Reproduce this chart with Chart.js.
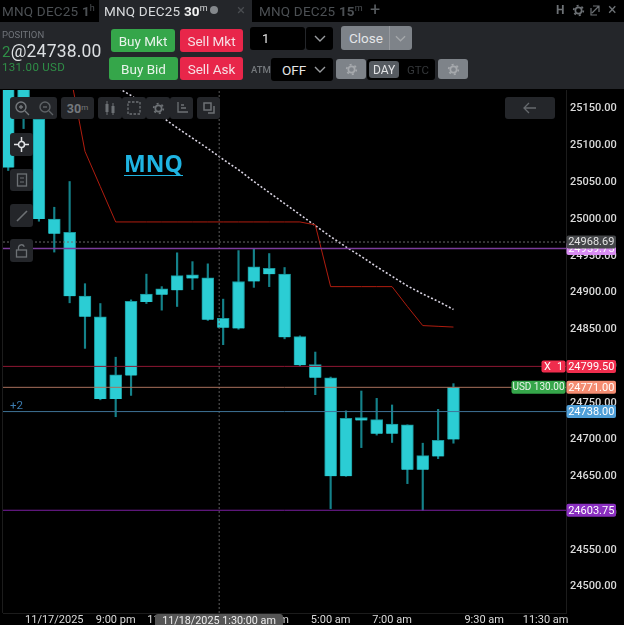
<!DOCTYPE html>
<html>
<head>
<meta charset="utf-8">
<title>MNQ DEC25 30m</title>
<script src="https://cdn.jsdelivr.net/npm/chart.js@4/dist/chart.umd.min.js"></script>
<style>
  html, body { margin: 0; padding: 0; background: #000; overflow: hidden; }
  body { width: 624px; height: 625px; position: relative; font-family: Roboto, sans-serif; }
  canvas { position: absolute; left: 0; top: 0; }
  .abs { position: absolute; white-space: nowrap; }
  .box { position: absolute; box-sizing: border-box; display: flex; align-items: center; justify-content: center; white-space: nowrap; }
  .tab { font-size: 13.5px; letter-spacing: 0.2px; line-height: 22px; top: 0; color: #4c5054; }
  .tab b { font-weight: 700; }
  .tab sup { font-size: 9px; line-height: 0; font-weight: 400; }
  .trade { border-radius: 3px; color: #e8f3ea; font-size: 13.5px; }
  .buy { background: #35a64a; }
  .sell { background: #e8264a; color: #f6dfe4; }
  .grey { background: #7e8389; border-radius: 3px; color: #e4e6e8; }
  .dark { background: #000; border-radius: 3px; color: #e6e6e6; }
  .tool { background: #24262a; border-radius: 3px; }
  .tool svg, .grey svg { display: block; }
</style>
</head>
<body>
<canvas id="priceChart" width="624" height="625"></canvas>

<svg width="0" height="0" style="position:absolute">
  <symbol id="gear" viewBox="0 0 14 14">
    <circle cx="7" cy="7" r="3.4" fill="none" stroke="currentColor" stroke-width="1.8"/>
    <circle cx="7" cy="7" r="5.2" fill="none" stroke="currentColor" stroke-width="1.8" stroke-dasharray="2.2 3.25"/>
  </symbol>
</svg>

<!-- Tab strip -->
<div class="box" style="left:99px;top:0;width:153px;height:22px;background:#24262a"></div>
<div class="abs tab" style="left:2px">MNQ DEC25 <b>1</b><sup>h</sup></div>
<div class="abs tab" style="left:104px;color:#d8dadc">MNQ DEC25 <b style="color:#f2f2f2">30</b><sup>m</sup></div>
<div class="abs" style="left:210px;top:6px;width:8px;height:8px;border-radius:50%;background:#84888c"></div>
<div class="abs" style="left:237px;top:0;font-size:15px;line-height:21px;color:#4a4d51">×</div>
<div class="abs tab" style="left:259px">MNQ DEC25 <b>15</b><sup>m</sup></div>
<div class="abs" style="left:370px;top:0;font-size:18px;line-height:20px;color:#5a5e62">+</div>
<div class="abs" style="left:556px;top:0;font-size:12px;line-height:21px;font-weight:700;color:#6d7175">H</div>
<svg class="abs" style="left:572px;top:4px;color:#6d7175" width="13" height="13"><use href="#gear"/></svg>
<svg class="abs" style="left:590px;top:4px" width="11" height="12" viewBox="0 0 11 12"><path d="M3 2h6v6M9 2 2 9M1 4v7h6" fill="none" stroke="#6d7175" stroke-width="1.2"/></svg>
<div class="abs" style="left:608px;top:0;font-size:16px;line-height:20px;color:#6d7175">×</div>

<!-- Order panel -->
<div class="abs" style="left:0;top:22px;width:624px;height:67px;background:#24262a"></div>
<div class="abs" style="left:2px;top:29px;font-size:9.5px;line-height:12px;color:#70747a">POSITION</div>
<div class="abs" style="left:2px;top:41px;font-size:17.5px;line-height:20px;color:#dcdfe2;letter-spacing:0.2px"><span style="color:#2f8f47;font-size:15px">2</span>@24738.00</div>
<div class="abs" style="left:2px;top:60px;font-size:11.5px;line-height:14px;color:#2f8f47;letter-spacing:0.3px">131.00 USD</div>
<div class="box trade buy" style="left:111px;top:29px;width:64px;height:23px">Buy Mkt</div>
<div class="box trade sell" style="left:180px;top:29px;width:63px;height:23px">Sell Mkt</div>
<div class="box trade buy" style="left:109px;top:57px;width:69px;height:23px">Buy Bid</div>
<div class="box trade sell" style="left:180px;top:57px;width:63px;height:23px">Sell Ask</div>
<div class="box dark" style="left:250px;top:27px;width:55px;height:23px;justify-content:flex-start;padding-left:12px;font-size:13px">1</div>
<div class="box dark" style="left:306px;top:27px;width:27px;height:23px"><svg width="12" height="7" viewBox="0 0 12 7"><path d="M1 1l5 5 5-5" fill="none" stroke="#9a9da0" stroke-width="1.4"/></svg></div>
<div class="box grey" style="left:341px;top:26px;width:71px;height:24px;justify-content:flex-start;padding-left:8px;font-size:13.5px">Close</div>
<div class="abs" style="left:389px;top:26px;width:1px;height:24px;background:#96999e"></div>
<svg class="abs" style="left:395px;top:35px" width="11" height="7" viewBox="0 0 12 7"><path d="M1 1l5 5 5-5" fill="none" stroke="#a5a8ab" stroke-width="1.4"/></svg>
<div class="abs" style="left:251px;top:64px;font-size:9.5px;line-height:12px;font-weight:500;color:#74787c">ATM</div>
<div class="box dark" style="left:271px;top:58px;width:62px;height:23px;justify-content:flex-start;padding-left:11px;font-size:13.5px">OFF</div>
<svg class="abs" style="left:314px;top:66px" width="12" height="7" viewBox="0 0 12 7"><path d="M1 1l5 5 5-5" fill="none" stroke="#9a9da0" stroke-width="1.4"/></svg>
<div class="box grey" style="left:336px;top:59px;width:30px;height:20px;color:#a6a9ad"><svg width="13" height="13"><use href="#gear"/></svg></div>
<div class="abs" style="left:367px;top:59px;width:68px;height:21px;background:#000;border-radius:3px"></div>
<div class="box" style="left:369px;top:61px;width:30px;height:17px;background:#565b61;border-radius:3px;font-size:12px;color:#e2e3e5">DAY</div>
<div class="abs" style="left:407px;top:63px;font-size:11.5px;line-height:14px;color:#34373a">GTC</div>
<div class="box grey" style="left:438px;top:59px;width:30px;height:20px;color:#a6a9ad"><svg width="13" height="13"><use href="#gear"/></svg></div>

<!-- Chart toolbar -->
<div class="box tool" style="left:10px;top:97px;width:24px;height:22px;border-radius:3px 0 0 3px"><svg width="16" height="16" viewBox="0 0 16 16"><circle cx="7" cy="7" r="5" fill="none" stroke="#75797d" stroke-width="1.4"/><path d="M11 11l4 4M5 7h4M7 5v4" stroke="#75797d" stroke-width="1.3"/></svg></div>
<div class="box tool" style="left:34px;top:97px;width:23px;height:22px;border-radius:0 3px 3px 0"><svg width="16" height="16" viewBox="0 0 16 16"><circle cx="7" cy="7" r="5" fill="none" stroke="#5e6266" stroke-width="1.4"/><path d="M11 11l4 4M5 7h4" stroke="#5e6266" stroke-width="1.3"/></svg></div>
<div class="box tool" style="left:61px;top:97px;width:33px;height:22px;font-size:12.5px;font-weight:700;color:#75797d">30<sup style="font-size:8px;font-weight:400;line-height:0">m</sup></div>
<div class="box tool" style="left:98px;top:97px;width:24px;height:22px"><svg width="14" height="16" viewBox="0 0 14 16"><path d="M4 1v14M10 3v12" stroke="#6d7175"/><rect x="2.5" y="4" width="3" height="8" fill="#6d7175"/><rect x="8.5" y="6" width="3" height="7" fill="#6d7175"/></svg></div>
<div class="box tool" style="left:122px;top:97px;width:24px;height:22px"><svg width="14" height="14" viewBox="0 0 14 14"><rect x="1" y="1" width="12" height="12" fill="none" stroke="#6d7175" stroke-width="1.3" stroke-dasharray="2.5 1.5"/></svg></div>
<div class="box tool" style="left:146px;top:97px;width:24px;height:22px;color:#6d7175"><svg width="13" height="13"><use href="#gear"/></svg></div>
<div class="box tool" style="left:170px;top:97px;width:23px;height:22px"><svg width="14" height="14" viewBox="0 0 14 14"><path d="M3 1v10h10M6 4h3M6 7h5" fill="none" stroke="#6d7175" stroke-width="1.3"/></svg></div>
<div class="box tool" style="left:197px;top:97px;width:23px;height:22px"><svg width="14" height="14" viewBox="0 0 14 14"><rect x="2" y="2" width="7" height="7" fill="none" stroke="#6d7175" stroke-width="1.5"/><path d="M12 5v7H6" fill="none" stroke="#6d7175" stroke-width="1.5"/></svg></div>
<div class="box tool" style="left:10px;top:133px;width:23px;height:23px"><svg width="15" height="15" viewBox="0 0 15 15"><circle cx="7.5" cy="7.5" r="3" fill="none" stroke="#e2e4e6" stroke-width="1.5"/><path d="M7.5 0v4M7.5 11v4M0 7.5h4M11 7.5h4" stroke="#e2e4e6" stroke-width="1.5"/></svg></div>
<div class="box tool" style="left:10px;top:169px;width:23px;height:22px"><svg width="12" height="14" viewBox="0 0 12 14"><rect x="1.5" y="1" width="9" height="12" fill="none" stroke="#6d7175" stroke-width="1.3"/><path d="M4 5h4M4 9h4" stroke="#6d7175"/></svg></div>
<div class="box tool" style="left:10px;top:204px;width:23px;height:23px"><svg width="12" height="12" viewBox="0 0 12 12"><path d="M1 11 11 1" stroke="#6d7175" stroke-width="1.6"/></svg></div>
<div class="box tool" style="left:10px;top:239px;width:23px;height:23px"><svg width="13" height="14" viewBox="0 0 13 14"><rect x="1.5" y="6" width="10" height="7" fill="none" stroke="#6d7175" stroke-width="1.3"/><path d="M3.5 6V3.5a3 3 0 0 1 5.8-.8" fill="none" stroke="#6d7175" stroke-width="1.3"/></svg></div>
<div class="box tool" style="left:505px;top:97px;width:50px;height:22px"><svg width="14" height="12" viewBox="0 0 14 12"><path d="M6 1 1 6l5 5M1 6h12" fill="none" stroke="#65696d" stroke-width="1.3"/></svg></div>

<!-- Chart title and position tag -->
<div class="abs" style="left:124px;top:147px;font-family:'Open Sans',sans-serif;font-size:23px;line-height:32px;font-weight:700;color:#1fb4e2;border-bottom:1px solid #1fb4e2;height:28px">MNQ</div>
<div class="abs" style="left:10px;top:398px;font-size:11.5px;line-height:14px;color:#3c7cb0">+2</div>

<!-- Crosshair time readout -->
<div class="box" style="left:155px;top:614px;width:128px;height:11px;background:#555;border-radius:3px 3px 0 0;font-size:10.8px;color:#eee;align-items:flex-start;line-height:14px">11/18/2025 1:30:00 am</div>

<script>
// 30 minute candles, oldest first
const bodyHigh = [25183, 25200, 25136, 25000, 24982, 24895, 24867, 24788, 24888, 24898, 24905, 24923, 24924, 24920, 24865, 24915, 24935, 24933, 24925, 24840, 24802, 24784, 24729, 24730, 24727, 24721, 24720, 24678, 24699, 24771];
const bodyLow = [25070, 25166, 25000, 24980, 24895, 24867, 24755, 24755, 24787, 24887, 24897, 24903, 24919, 24863, 24852, 24851, 24915, 24925, 24839, 24801, 24784, 24650, 24650, 24726, 24708, 24708, 24659, 24659, 24677, 24700];
const wickHigh = [25195, 25210, 25150, 25016, 25051, 24912, 24885, 24812, 24890, 24925, 24908, 24954, 24942, 24939, 24891, 24957, 24959, 24953, 24934, 24841, 24819, 24785, 24739, 24766, 24756, 24747, 24720, 24695, 24741, 24776];
const wickLow = [25066, 25123, 24997, 24955, 24886, 24824, 24754, 24731, 24760, 24885, 24876, 24881, 24904, 24862, 24829, 24850, 24907, 24908, 24837, 24800, 24761, 24606, 24650, 24689, 24706, 24696, 24640, 24603.75, 24674, 24695];

// Indicator lines, one value per candle
const redLine = [null, null, null, null, 25202, 25092, 25044, 24996, 24996, 24996, 24996, 24996, 24996, 24996, 24996, 24996, 24996, 24996, 24996, 24996, 24992, 24908, 24908, 24908, 24908, 24908, 24881, 24855, 24854, 24853];
const dottedLine = [null, null, null, null, null, null, null, 25180, 25168, 25153, 25139, 25124, 25110, 25096, 25081, 25067, 25051, 25036, 25021, 25006, 24991, 24976, 24962, 24949, 24935, 24922, 24909, 24898, 24888, 24877];

// Axis ticks
const priceTicks = [25150, 25100, 25050, 25000, 24950, 24900, 24850, 24800, 24750, 24700, 24650, 24600, 24550, 24500];
const timeTickAt = [3, 7, 10.55, 17, 21, 25, 31, 35];
const timeTickLabels = ["11/17/2025", "9:00 pm", "11:00 pm", "3:00 am", "5:00 am", "7:00 am", "9:30 am", "11:30 am"];
const crosshairAt = 13.74;

// Horizontal price levels
const lastClose = 24968.69;
const vwapLevel = 24959.75;
const stopLevel = 24799.5;
const lastPrice = 24771;
const entryPrice = 24738;
const lowLevel = 24603.75;

const TEAL = "#2bcdd4";
const X_MIN = -0.34;
const X_MAX = 36.33;
const Y_MIN = 24464;
const Y_MAX = 25175.5;

const toPoints = (values) => values.map((v, i) => ({ x: i, y: v }));

function levelDataset(price, color, extra) {
  return Object.assign(
    {
      type: "line",
      data: [
        { x: X_MIN, y: price },
        { x: X_MAX, y: price },
      ],
      borderColor: color,
      borderWidth: 1,
      pointRadius: 0,
      order: 1,
    },
    extra
  );
}

// Price tags on the right hand axis, drawn over the tick labels
const priceTags = {
  id: "priceTags",
  afterDraw(chart) {
    const { ctx, scales } = chart;
    const x = 566.5;
    const w = 49.5;

    function tag(px, left, width, height, fill) {
      ctx.fillStyle = fill;
      ctx.beginPath();
      ctx.roundRect(left, px - height / 2, width, height, 2);
      ctx.fill();
    }

    function text(str, cx, cy, color, align) {
      ctx.fillStyle = color;
      ctx.textAlign = align || "center";
      ctx.textBaseline = "middle";
      ctx.fillText(str, cx, cy);
    }

    ctx.save();
    ctx.font = "11px Roboto";

    const rows = [
      [vwapLevel, "#d88cf2", "#fff"],
      [lastClose, "#444649", "#e4e4e4"],
      [stopLevel, "#ef2d4d", "#fff"],
      [lastPrice, "#f58d72", "#fff"],
      [entryPrice, "#4f9fd8", "#fff"],
      [lowLevel, "#8a2fc0", "#fff"],
    ];
    rows.forEach(([price, fill, color]) => {
      const y = scales.y.getPixelForValue(price);
      tag(y, x, w, 13, fill);
      text(price.toFixed(2), x + w / 2, y + 0.5, color);
    });

    // Small order tags that sit on the levels, just inside the plot
    const stopY = scales.y.getPixelForValue(stopLevel);
    tag(stopY, 541.5, 24, 12, "#ef2d4d");
    text("X", 547.5, stopY + 0.5, "#fff");
    text("1", 560, stopY + 0.5, "#fff");

    const lastY = scales.y.getPixelForValue(lastPrice);
    tag(lastY, 511.5, 54, 13, "#35a64a");
    ctx.font = "10px Roboto";
    text("USD 130.00", 538.5, lastY + 0.5, "#e8f3ea");

    // Left edge of the plot
    ctx.fillStyle = "#1c1c1c";
    ctx.fillRect(2, chart.chartArea.top, 1, chart.chartArea.height);
    ctx.restore();
  },
};

new Chart(document.getElementById("priceChart"), {
  type: "bar",
  data: {
    datasets: [
      levelDataset(lastClose, "#6a6a6a", { borderDash: [2, 2] }),
      levelDataset(vwapLevel, "#7b3c9a", { borderWidth: 1.5 }),
      levelDataset(stopLevel, "#8f1733"),
      levelDataset(lastPrice, "#a9705c"),
      levelDataset(entryPrice, "#3f7396"),
      levelDataset(lowLevel, "#7a1fa0"),
      {
        type: "line",
        data: [
          { x: crosshairAt, y: Y_MIN },
          { x: crosshairAt, y: Y_MAX },
        ],
        borderColor: "#5c5c5c",
        borderWidth: 1,
        borderDash: [2, 2],
        pointRadius: 0,
        order: 1,
      },
      {
        type: "line",
        data: toPoints(redLine),
        borderColor: "#b01d0f",
        borderWidth: 1,
        pointRadius: 0,
        order: 2,
      },
      {
        type: "line",
        data: toPoints(dottedLine),
        borderColor: "#d9d4e2",
        borderWidth: 1.6,
        borderDash: [2, 2],
        pointRadius: 0,
        order: 2,
      },
      {
        data: bodyLow.map((v, i) => ({ x: i, y: [v, bodyHigh[i]] })),
        backgroundColor: TEAL,
        borderColor: "#1a979c",
        borderWidth: 1,
        barThickness: 12,
        grouped: false,
        order: 3,
      },
      {
        data: wickLow.map((v, i) => ({ x: i, y: [v, wickHigh[i]] })),
        backgroundColor: "#14828a",
        barThickness: 1.5,
        grouped: false,
        order: 4,
      },
    ],
  },
  options: {
    responsive: false,
    animation: false,
    layout: { padding: { left: 3, top: 90, right: 0, bottom: 0 } },
    plugins: {
      legend: { display: false },
      tooltip: { enabled: false },
    },
    scales: {
      x: {
        type: "linear",
        offset: false,
        min: X_MIN,
        max: X_MAX,
        grid: { display: false, drawTicks: false },
        border: { display: true, color: "#1c1c1c" },
        afterFit: (scale) => {
          scale.height = 12;
        },
        afterBuildTicks: (scale) => {
          scale.ticks = timeTickAt.map((value) => ({ value }));
        },
        ticks: {
          autoSkip: false,
          maxRotation: 0,
          padding: 1,
          color: "#dadada",
          font: { family: "Roboto", size: 11 },
          callback: (value, index) => timeTickLabels[index],
        },
      },
      y: {
        position: "right",
        min: Y_MIN,
        max: Y_MAX,
        grid: { display: false, drawTicks: false },
        border: { display: true, color: "#1c1c1c" },
        afterFit: (scale) => {
          scale.width = 58;
        },
        afterBuildTicks: (scale) => {
          scale.ticks = priceTicks.map((value) => ({ value }));
        },
        ticks: {
          padding: 4,
          color: "#dadada",
          font: { family: "Roboto", size: 11, weight: "500" },
          callback: (value) => value.toFixed(2),
        },
      },
    },
  },
  plugins: [priceTags],
});
</script>
</body>
</html>
